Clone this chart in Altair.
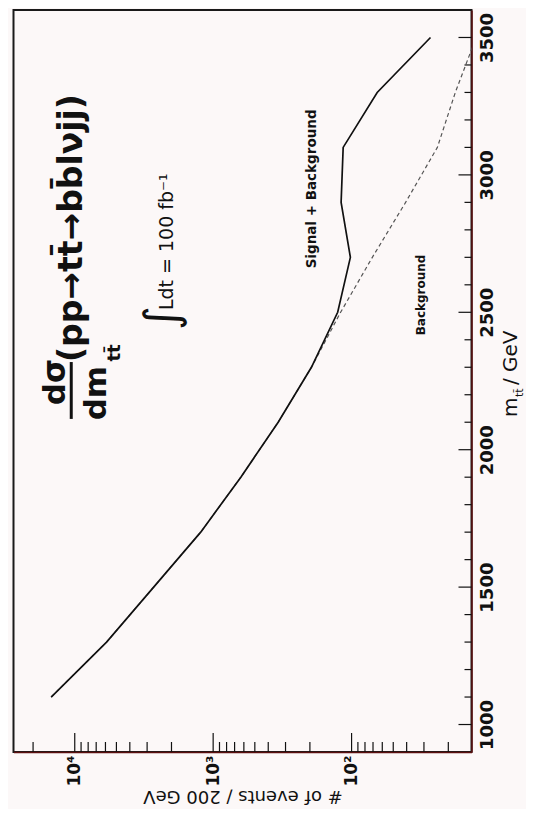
import altair as alt
import pandas as pd

# ---- data ----
m_vals = [1100, 1300, 1500, 1700, 1900, 2100, 2300, 2500, 2700, 2900, 3100, 3300, 3500]
background = [14800, 5890, 2690, 1230, 631, 339, 195, 120, 70.8, 40.7, 24.0, 17.8, 12.6]
sig_plus_bkg = [14800, 5890, 2690, 1230, 631, 339, 195, 126, 102, 119, 115, 65.3, 26.9]

m_major = [1000, 1500, 2000, 2500, 3000, 3500]
m_minor = [1100, 1200, 1300, 1400, 1600, 1700, 1800, 1900, 2100, 2200, 2300, 2400,
           2600, 2700, 2800, 2900, 3100, 3200, 3300, 3400]
n_major = [100, 1000, 10000]
n_minor = [20, 30, 40, 50, 60, 70, 80, 90, 200, 300, 400, 500, 600, 700, 800, 900,
           2000, 3000, 4000, 5000, 6000, 7000, 8000, 9000, 20000]

n_domain = [13.6, 27700]
m_domain = [900, 3600]

W, H = 458, 742
FONT = "DejaVu Sans"
AXIS_RED = "#5c1010"

xs = alt.Scale(type="log", domain=n_domain, reverse=True)
ys = alt.Scale(domain=m_domain)

x_axis = alt.Axis(
    values=n_major,
    labelExpr="'10' + (datum.value >= 10000 ? '⁴' : datum.value >= 1000 ? '³' : '²')",
    labelAngle=270, labelAlign="right", labelBaseline="middle",
    labelFont=FONT, labelFontWeight="bold", labelFontSize=17, labelPadding=3,
    labelColor="#111", ticks=False, tickSize=0, grid=False,
    domainColor=AXIS_RED, domainWidth=1.5,
    title="# of events / 200 GeV", titleAngle=180, titleBaseline="bottom",
    titleFont=FONT, titleFontWeight="normal", titleFontSize=18, titleColor="#111",
    titlePadding=0,
)
y_axis = alt.Axis(
    orient="right", values=m_major, format="d",
    labelAngle=270, labelAlign="center", labelBaseline="top",
    labelFont=FONT, labelFontWeight="bold", labelFontSize=18, labelPadding=7,
    labelColor="#111", ticks=False, tickSize=0, grid=False,
    domainColor=AXIS_RED, domainWidth=1.5, title=None,
)

X = alt.X("N:Q", scale=xs, axis=x_axis)
Y = alt.Y("m:Q", scale=ys, axis=y_axis)

df_b = pd.DataFrame({"m": m_vals, "N": background})
df_s = pd.DataFrame({"m": m_vals, "N": sig_plus_bkg})

bkg_line = alt.Chart(df_b).mark_line(
    color="#555", strokeWidth=1.2, strokeDash=[4, 3], clip=True
).encode(x=X, y=Y, order="m:Q")
sb_line = alt.Chart(df_s).mark_line(
    color="#111", strokeWidth=1.7, clip=True
).encode(x=X, y=Y, order="m:Q")

# inward ticks
def m_ticks(vals, length):
    return alt.Chart(pd.DataFrame({"m": vals})).mark_rule(color="#111", strokeWidth=1.2).encode(
        y=Y, x=alt.value(W - length), x2=alt.value(W))

def n_ticks(vals, length):
    return alt.Chart(pd.DataFrame({"N": vals})).mark_rule(color="#111", strokeWidth=1.2).encode(
        x=X, y=alt.value(H), y2=alt.value(H - length))

# annotations (data coordinates)
ann = [
    # text, N, m, size, weight, align, baseline
    ("dσ", 11700, 2246, 31, "bold", "center", "alphabetic"),
    ("dm", 5935, 2206, 31, "bold", "center", "alphabetic"),
    ("tt\u0304", 4700, 2352, 18, "bold", "center", "alphabetic"),
    ("(pp→tt\u0304→bb\u0304lνjj)", 8850, 2319, 33, "bold", "left", "alphabetic"),
    ("∫", 2297, 2479, 46, "normal", "center", "middle"),
    ("Ldt = 100 fb⁻¹", 1945, 2508, 19, "normal", "left", "alphabetic"),
    ("Signal + Background", 180, 2949, 13.5, "bold", "center", "alphabetic"),
    ("Background", 29.3, 2563, 12, "bold", "center", "alphabetic"),
    ("m", 6.38, 2119, 20, "normal", "left", "alphabetic"),
    ("tt\u0304", 5.77, 2192, 11, "normal", "left", "alphabetic"),
    (" / GeV", 6.38, 2235, 20, "normal", "left", "alphabetic"),
]

layers = [bkg_line, sb_line,
          m_ticks(m_major, 13), m_ticks(m_minor, 7),
          n_ticks(n_major, 19), n_ticks(n_minor, 10)]

for txt, n, m, size, weight, align, base in ann:
    layers.append(
        alt.Chart(pd.DataFrame({"t": [txt], "N": [n], "m": [m]})).mark_text(
            angle=270, font=FONT, fontSize=size, fontWeight=weight,
            align=align, baseline=base, color="#111"
        ).encode(x=X, y=Y, text="t:N")
    )

# fraction bar
frac = alt.Chart(pd.DataFrame({"N": [10600], "m": [2112], "m2": [2319]})).mark_rule(
    color="#111", strokeWidth=3
).encode(x=X, y=Y, y2="m2:Q")
layers.append(frac)

chart = alt.layer(*layers).properties(
    width=W, height=H,
    background="#fcf8f8",
    padding={"left": 5.5, "top": 2, "right": 0, "bottom": 4},
).configure_view(stroke="#1a1a1a", strokeWidth=2)

chart.save("out.html", embed_options={"renderer": "svg", "actions": False})
